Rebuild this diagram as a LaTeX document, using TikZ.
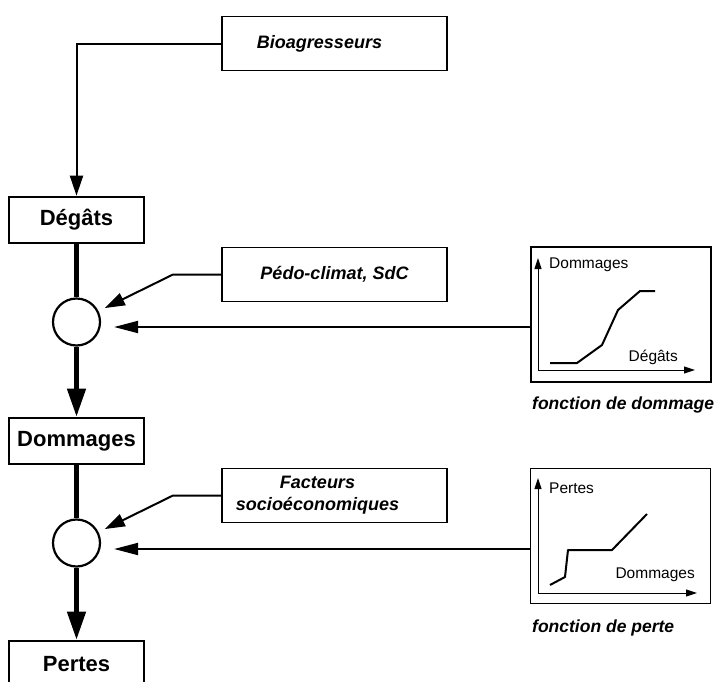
\documentclass[tikz,border=0pt]{standalone}
\usepackage{fontspec}
\setmainfont{Liberation Sans}
\usetikzlibrary{arrows.meta,calc}
\begin{document}
\begin{tikzpicture}[x=1pt,y=-1pt,
  ibox/.style={draw, line width=1.6pt, minimum width=225pt, minimum height=54pt, inner sep=0pt,
    font=\fontsize{18}{22}\selectfont\bfseries\itshape, align=center},
  mainbox/.style={draw, line width=2.6pt, minimum width=135pt, minimum height=46pt, inner sep=0pt,
    font=\fontsize{22}{24}\selectfont\bfseries},
  junc/.style={draw, circle, line width=2.2pt, minimum size=47pt, inner sep=0pt},
  gbox/.style={draw, line width=1.4pt, minimum width=180pt, minimum height=135pt, inner sep=0pt},
  thickarrow/.style={line width=4.5pt, -{Triangle[length=28pt,width=18pt]}},
  thinarrow/.style={line width=2pt, -{Triangle[length=20pt,width=13pt]}},
  harrow/.style={line width=2pt, -{Triangle[length=24pt,width=12pt]}},
  axisarrow/.style={line width=1pt, -{Triangle[length=11pt,width=7pt]}},
  curveline/.style={line width=2pt, line join=round},
  glab/.style={font=\fontsize{15.5}{18}\selectfont, inner sep=0pt},
  captext/.style={font=\fontsize{17.5}{21}\selectfont\bfseries\itshape, inner sep=0pt, anchor=west}
]
\clip (0,0) rectangle (721,681);
\fill[white] (0,0) rectangle (721,681);

% main chain
\node[mainbox] (deg) at (76.5,220) {Dégâts};
\node[junc] (c1) at (76.5,322) {};
\node[mainbox] (dom) at (76.5,441) {Dommages};
\node[junc] (c2) at (76.5,543) {};
\node[mainbox] (per) at (76.5,664) {Pertes};

\draw[thickarrow, -] (deg.south) -- (c1.north);
\draw[thickarrow] (c1.south) -- (dom.north);
\draw[thickarrow, -] (dom.south) -- (c2.north);
\draw[thickarrow] (c2.south) -- (per.north);

% input boxes
\node[ibox] (bio) at (334.5,43.5) {Bioagresseurs\rule{30pt}{0pt}};
\node[ibox] (pedo) at (334.5,274.5) {Pédo-climat, SdC};
\node[ibox] (fac) at (334.5,495.5) {Facteurs\rule{34pt}{0pt}\\socioéconomiques\rule{34pt}{0pt}};

\draw[thinarrow] (bio.west) -| (deg.north);
\coordinate (pb) at (173,274.5);
\draw[thinarrow, shorten >=7pt] (pedo.west) -- (pb) -- (c1);
\coordinate (fb) at (173,495.5);
\draw[thinarrow, shorten >=7pt] (fac.west) -- (fb) -- (c2);

% graph 1
\node[gbox] (g1) at (621,314.5) {};
\coordinate (o1) at (538,370);
\draw[axisarrow] (o1) -- ++(0,-112);
\draw[axisarrow] (o1) -- ++(157,0);
\draw[curveline] (550,363) -- (577,363) -- (602,345) -- (618,310) -- (640,291) -- (655,291);
\node[glab, anchor=west] (g1y) at (549,265) {Dommages};
\node[glab, anchor=east] (g1x) at (678,357) {Dégâts};
\node[captext] (cap1) at (532,405) {fonction de dommage};
\draw[harrow] ([yshift=-12.5pt]g1.west) -- ([xshift=13pt,yshift=-5pt]c1.east);

% graph 2
\node[gbox] (g2) at (620.5,536) {};
\coordinate (o2) at (538,593);
\draw[axisarrow] (o2) -- ++(0,-115);
\draw[axisarrow] (o2) -- ++(159,0);
\draw[curveline] (550,585) -- (565,577) -- (568,550) -- (612,550) -- (647,514);
\node[glab, anchor=west] (g2y) at (549,488) {Pertes};
\node[glab, anchor=east] (g2x) at (695,575) {Dommages};
\node[captext] (cap2) at (532,628) {fonction de perte};
\draw[harrow] ([yshift=-13pt]g2.west) -- ([xshift=13pt,yshift=-6pt]c2.east);
\end{tikzpicture}
\end{document}
